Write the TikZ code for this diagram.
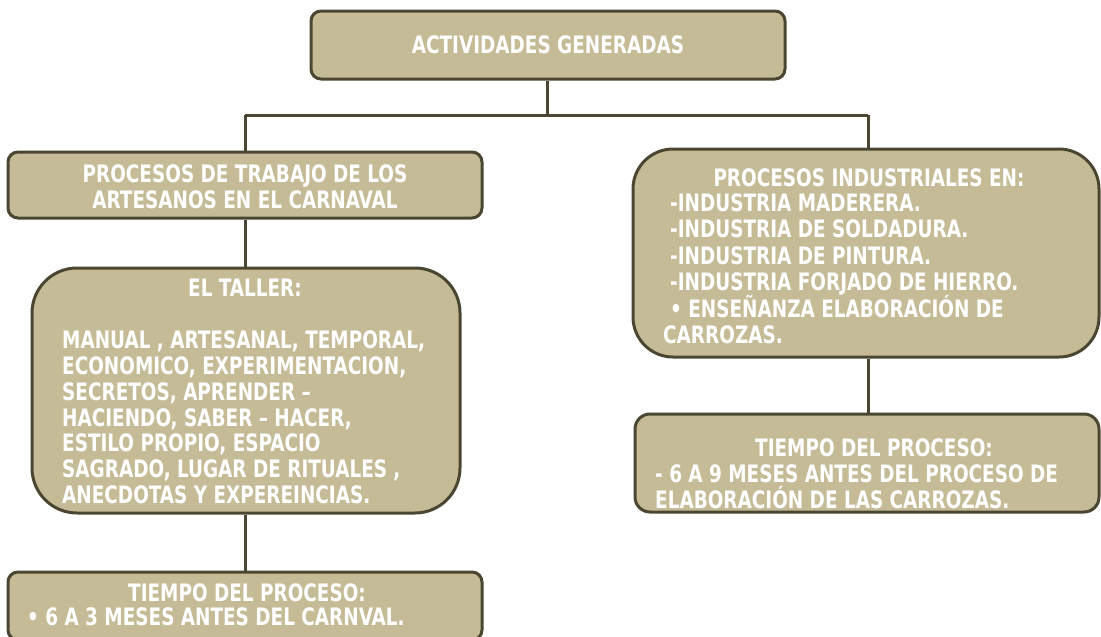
\documentclass[tikz,border=0pt]{standalone}
\usepackage{fontspec}
\newfontfamily\cf[FakeStretch=0.853]{DejaVu Sans Condensed}
\definecolor{boxfill}{RGB}{197,188,151}
\definecolor{boxline}{RGB}{75,70,49}
\begin{document}
\begin{tikzpicture}[x=1pt,y=-1pt,
  box/.style={draw=boxline, line width=3pt, fill=boxfill, inner sep=0pt},
  txt/.style={text=white, font=\cf\bfseries\fontsize{24}{26}\selectfont, inner sep=0pt},
  conn/.style={draw=boxline, line width=3pt}]
\useasboundingbox (0,0) rectangle (1101,637);
% boxes
\node[box, rounded corners=10pt, minimum width=474pt, minimum height=68pt] (top) at (548,45) {};
\node[box, rounded corners=10pt, minimum width=474pt, minimum height=66pt] (L1) at (245,185) {};
\node[box, rounded corners=45pt, minimum width=428pt, minimum height=245pt] (L2) at (246,390.5) {};
\node[box, rounded corners=10pt, minimum width=474pt, minimum height=68pt] (L3) at (245,606) {};
\node[box, rounded corners=40pt, minimum width=466pt, minimum height=208pt] (R1) at (866,253) {};
\node[box, rounded corners=15pt, minimum width=464pt, minimum height=98pt] (R2) at (867,463) {};
% connectors
\coordinate (j) at (547,115);
\coordinate (jl) at (245,115);
\coordinate (jr) at (868,115);
\draw[conn] (top.south -| j) -- (j);
\draw[conn] (jl) -- (jr);
\draw[conn] (jl) -- (L1.north);
\draw[conn] (jr) -- (jr |- R1.north);
\draw[conn] (L1.south) -- (L1.south |- L2.north);
\draw[conn] (L1.south |- L2.south) -- (L1.south |- L3.north);
\draw[conn] (jr |- R1.south) -- (jr |- R2.north);
% texts
\node[txt, anchor=base] (t0) at (548,53) {ACTIVIDADES GENERADAS};
\node[txt, anchor=base] (l1a) at (245,182) {PROCESOS DE TRABAJO DE LOS};
\node[txt, anchor=base] (l1b) at (245,208) {ARTESANOS EN EL CARNAVAL};
\node[txt, anchor=base] (l2t) at (245,296) {EL TALLER:};
\node[txt, anchor=base west] (l2b) at (62,348) {MANUAL , ARTESANAL, TEMPORAL,};
\node[txt, anchor=base west] (l2c) at (62,374) {ECONOMICO, EXPERIMENTACION,};
\node[txt, anchor=base west] (l2d) at (62,400) {SECRETOS, APRENDER –};
\node[txt, anchor=base west] (l2e) at (62,426) {HACIENDO, SABER – HACER,};
\node[txt, anchor=base west] (l2f) at (62,451) {ESTILO PROPIO, ESPACIO};
\node[txt, anchor=base west] (l2g) at (62,477) {SAGRADO, LUGAR DE RITUALES ,};
\node[txt, anchor=base west] (l2h) at (62,503) {ANECDOTAS Y EXPEREINCIAS.};
\node[txt, anchor=base] (l3a) at (247,601) {TIEMPO DEL PROCESO:};
\node[txt, anchor=base west] (l3b) at (27,625) {• 6 A 3 MESES ANTES DEL CARNVAL.};
\node[txt, anchor=base] (r1t) at (869,186) {PROCESOS INDUSTRIALES EN:};
\node[txt, anchor=base west] (r1a) at (670,211) {-INDUSTRIA MADERERA.};
\node[txt, anchor=base west] (r1b) at (670,237) {-INDUSTRIA DE SOLDADURA.};
\node[txt, anchor=base west] (r1c) at (670,264) {-INDUSTRIA DE PINTURA.};
\node[txt, anchor=base west] (r1d) at (670,290) {-INDUSTRIA FORJADO DE HIERRO.};
\node[txt, anchor=base west] (r1e) at (670,317) {• ENSEÑANZA ELABORACIÓN DE};
\node[txt, anchor=base west] (r1f) at (663,343) {CARROZAS.};
\node[txt, anchor=base] (r2t) at (874,456) {TIEMPO DEL PROCESO:};
\node[txt, anchor=base west] (r2a) at (655,482) {- 6 A 9 MESES ANTES DEL PROCESO DE};
\node[txt, anchor=base west] (r2b) at (655,508) {ELABORACIÓN DE LAS CARROZAS.};
\end{tikzpicture}
\end{document}
